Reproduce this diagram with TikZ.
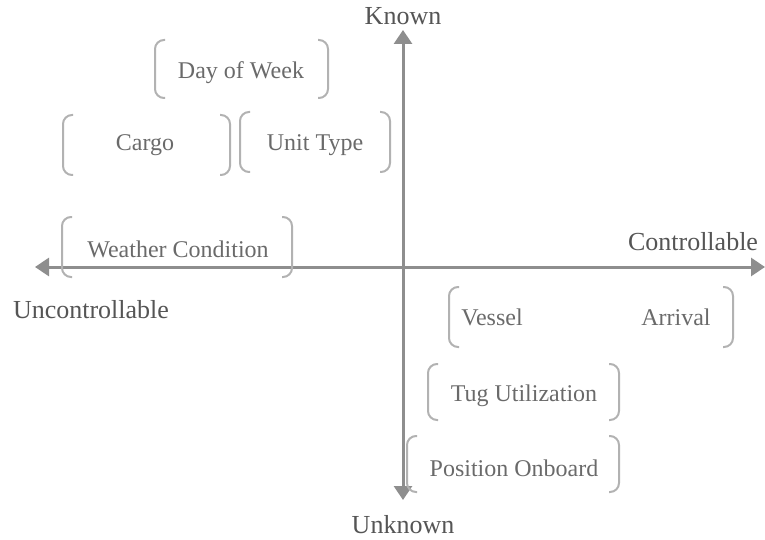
\documentclass[tikz,border=0pt]{standalone}
\usepackage{fontspec}
\setmainfont{Liberation Serif}
\usetikzlibrary{arrows.meta}
\definecolor{axisgray}{HTML}{8E8E8E}
\definecolor{bracketgray}{HTML}{B2B2B2}
\definecolor{textgray}{HTML}{6A6A6A}
\definecolor{axistext}{HTML}{555555}
\begin{document}
\begin{tikzpicture}[x=1pt,y=-1pt,
  axis/.style={draw=axisgray,line width=3pt,
    {Triangle[width=18pt,length=14pt]}-{Triangle[width=18pt,length=14pt]}},
  axislabel/.style={text=axistext,font=\fontsize{26}{30}\selectfont,inner sep=0pt},
  boxtext/.style={text=textgray,font=\fontsize{24}{28}\selectfont,inner sep=0pt},
  frame/.style={inner sep=0pt,outer sep=0pt},
  bracket/.style={draw=bracketgray,line width=2pt,rounded corners=9pt}
]
\useasboundingbox (0,0) rectangle (765,540);

% axes
\coordinate (xl) at (35,267);
\coordinate (xr) at (765,267);
\coordinate (yt) at (403,30);
\coordinate (yb) at (403,500);
\draw[axis] (xl) -- (xr);
\draw[axis] (yb) -- (yt);

\node[axislabel] (known) at (403,16) {Known};
\node[axislabel] (unknown) at (403,525) {Unknown};
\node[axislabel] (ctrl) at (693,242) {Controllable};
\node[axislabel] (unctrl) at (91,310) {Uncontrollable};

% bracketed factor boxes
\node[frame,minimum width=173pt,minimum height=58pt] (dow) at (241.5,69) {};
\node[frame,minimum width=167pt,minimum height=60pt] (cargo) at (146.5,145) {};
\node[frame,minimum width=150pt,minimum height=60pt] (unit) at (315,142) {};
\node[frame,minimum width=230pt,minimum height=60pt] (weather) at (177,247) {};
\node[frame,minimum width=284pt,minimum height=60pt] (vessel) at (591,317) {};
\node[frame,minimum width=191pt,minimum height=56pt] (tug) at (523.5,392) {};
\node[frame,minimum width=212pt,minimum height=56pt] (pos) at (513,464) {};

\foreach \n in {dow,cargo,unit,weather,vessel,tug,pos}{
  \draw[bracket] ([xshift=10pt]\n.north west) -- (\n.north west)
    -- (\n.south west) -- ([xshift=10pt]\n.south west);
  \draw[bracket] ([xshift=-10pt]\n.north east) -- (\n.north east)
    -- (\n.south east) -- ([xshift=-10pt]\n.south east);
}

\node[boxtext] (tdow) at (241,73) {Day of Week};
\node[boxtext] (tcargo) at (145,145) {Cargo};
\node[boxtext] (tunit) at (315,145) {Unit Type};
\node[boxtext] (tweather) at (178,249) {Weather Condition};
\node[boxtext] (tvessel) at (492,317) {Vessel};
\node[boxtext] (tarrival) at (676,317) {Arrival};
\node[boxtext] (ttug) at (524,396) {Tug Utilization};
\node[boxtext] (tpos) at (514,468) {Position Onboard};
\end{tikzpicture}
\end{document}
